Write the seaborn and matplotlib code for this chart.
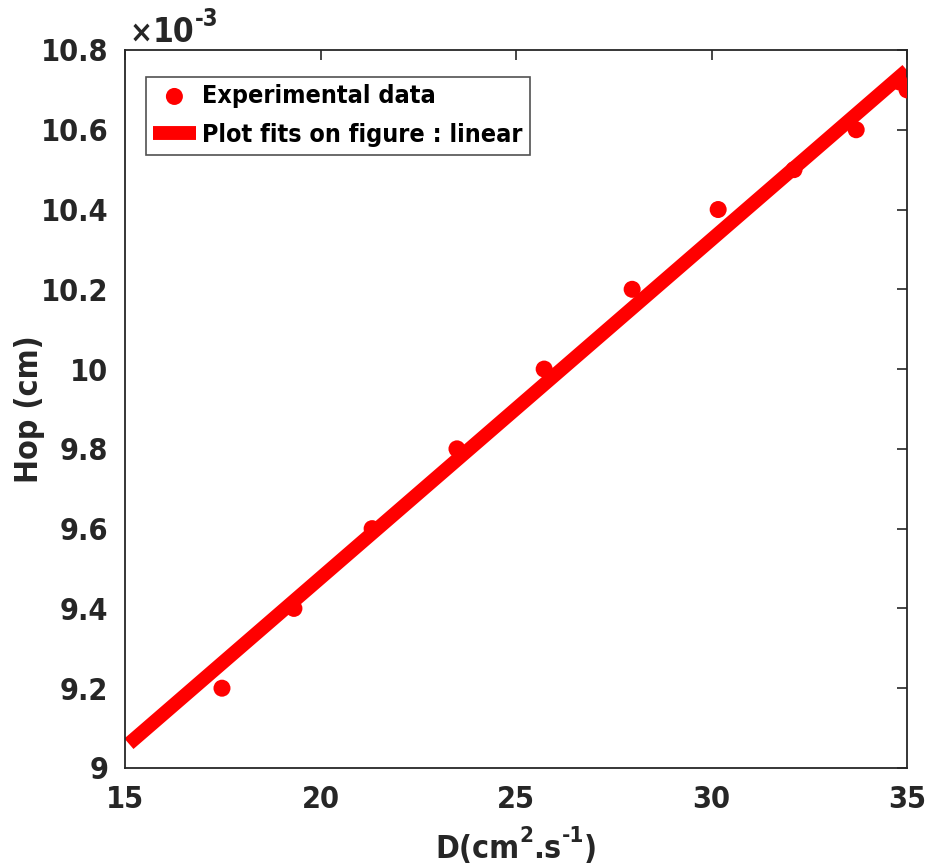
import numpy as np
import pandas as pd
import matplotlib
matplotlib.use("Agg")
import matplotlib.pyplot as plt
import seaborn as sns
from matplotlib import font_manager
from matplotlib.ticker import FuncFormatter, FixedLocator

# Data
d_values = [17.48, 19.32, 21.32, 23.49, 25.72, 27.97, 30.17, 32.11, 33.70, 34.80, 35.00]
hop_values = [9.20e-3, 9.40e-3, 9.60e-3, 9.80e-3, 10.00e-3, 10.20e-3, 10.40e-3,
              10.50e-3, 10.60e-3, 10.72e-3, 10.70e-3]
x_ticks = [15, 20, 25, 30, 35]
y_ticks = [9.0e-3, 9.2e-3, 9.4e-3, 9.6e-3, 9.8e-3, 10.0e-3, 10.2e-3, 10.4e-3, 10.6e-3, 10.8e-3]

sns.set_theme(style="white")

# pick a condensed bold font if available
names = {f.name for f in font_manager.fontManager.ttflist}
cond = [(f.name, f.stretch) for f in font_manager.fontManager.ttflist]
family = 'Liberation Sans'
stretch = 'normal'
if 'Liberation Sans Narrow' in names:
    family = 'Liberation Sans Narrow'
elif any(n == 'DejaVu Sans' and s in ('condensed', 'semi-condensed', 500, 300) for n, s in cond):
    family = 'DejaVu Sans'
    stretch = 'condensed'
plt.rcParams['font.family'] = [family, 'DejaVu Sans']
plt.rcParams['font.stretch'] = stretch
plt.rcParams['font.weight'] = 'bold'
plt.rcParams['axes.unicode_minus'] = False

TXT = "#262626"

df = pd.DataFrame({"D": d_values, "Hop": hop_values})

# linear fit across the axis range
coef = np.polyfit(df["D"], df["Hop"], 1)
fit_x = np.linspace(15.1, 35.0, 50)
fit_df = pd.DataFrame({"D": fit_x, "Hop": np.polyval(coef, fit_x)})

fig = plt.figure(figsize=(9.26, 8.66), dpi=100)
ax_l, ax_b, ax_w, ax_h = 0.135, 0.1132, 0.8445, 0.8291
ax = fig.add_axes([ax_l, ax_b, ax_w, ax_h])

sns.scatterplot(data=df, x="D", y="Hop", ax=ax, color="#ff0000", s=150,
                edgecolor="none", label="Experimental data", zorder=3)
sns.lineplot(data=fit_df, x="D", y="Hop", ax=ax, color="#ff0000", linewidth=10,
             label="Plot fits on figure : linear", zorder=2, solid_capstyle="butt")

ax.set_xlim(15, 35)
ax.set_ylim(9.0e-3, 10.8e-3)
ax.xaxis.set_major_locator(FixedLocator(x_ticks))
ax.yaxis.set_major_locator(FixedLocator(y_ticks))
ax.yaxis.set_major_formatter(FuncFormatter(lambda v, p: "%g" % round(v * 1e3, 3)))
ax.xaxis.set_major_formatter(FuncFormatter(lambda v, p: "%g" % v))

ax.tick_params(axis="both", which="major", direction="in", length=7, width=1.2,
               top=True, right=True, labelsize=22, colors=TXT, pad=12)
for lbl in ax.get_xticklabels() + ax.get_yticklabels():
    lbl.set_fontweight("bold")
    lbl.set_color(TXT)

for sp in ax.spines.values():
    sp.set_color(TXT)
    sp.set_linewidth(1.3)

ax.set_xlabel("")

r = fig.canvas.get_renderer()
def place_seq(parts, y0, center_x=None, left_x=None):
    # parts: list of (text, size, dy) placed side by side in figure coords
    objs = []
    for txt, size, dy in parts:
        o = fig.text(0, y0 + dy, txt, fontsize=size, fontweight="bold", color=TXT,
                     ha="left", va="baseline")
        objs.append(o)
    fig.canvas.draw()
    widths = [o.get_window_extent(r).width / fig.bbox.width for o in objs]
    total = sum(widths)
    x = left_x if left_x is not None else center_x - total / 2
    for o, w in zip(objs, widths):
        o.set_x(x)
        x += w
    return objs

# x label: D(cm^2.s^-1)
place_seq([("D(cm", 23, 0.0), ("2", 16, 0.019), (".s", 23, 0.0), ("-1", 16, 0.019), (")", 23, 0.0)],
          1 - 858 / 866, center_x=ax_l + ax_w / 2)

# y label
ax.set_ylabel("Hop (cm)", fontsize=23, fontweight="bold", color=TXT)
ax.yaxis.set_label_coords((45 - 125) / 782, 0.5)

# exponent annotation
place_seq([("\u00d7", 22, 0.0), ("10", 24, 0.0), ("-3", 17, 0.018)], 1 - 42 / 866, left_x=130 / 926)

leg = ax.legend(loc="upper left", bbox_to_anchor=(0.02, 0.97), fontsize=18,
                frameon=True, fancybox=False, edgecolor=TXT,
                handlelength=1.7, handletextpad=0.25, borderpad=0.3,
                labelspacing=0.6, borderaxespad=0.2)
leg.get_frame().set_linewidth(1.2)
for t in leg.get_texts():
    t.set_fontweight("bold")
    t.set_color("black")

fig.savefig("out.png", dpi=100)
